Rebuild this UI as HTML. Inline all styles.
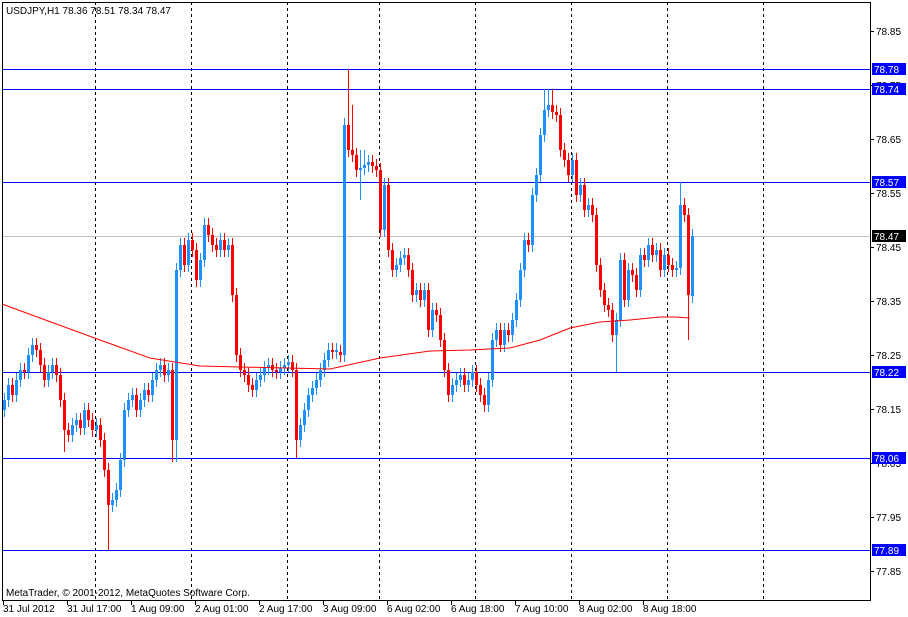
<!DOCTYPE html>
<html><head><meta charset="utf-8"><style>
html,body{margin:0;padding:0;background:#fff;width:908px;height:617px;overflow:hidden}
svg{display:block;font-family:"Liberation Sans",sans-serif;font-size:10px}
</style></head><body>
<svg width="908" height="617" xmlns="http://www.w3.org/2000/svg">
<rect x="0" y="0" width="908" height="617" fill="#fff"/>
<g stroke="#000" stroke-dasharray="3,3">
<line x1="95.5" y1="2" x2="95.5" y2="600"/><line x1="191.5" y1="2" x2="191.5" y2="600"/><line x1="287.5" y1="2" x2="287.5" y2="600"/><line x1="379.5" y1="2" x2="379.5" y2="600"/><line x1="475.5" y1="2" x2="475.5" y2="600"/><line x1="571.5" y1="2" x2="571.5" y2="600"/><line x1="667.5" y1="2" x2="667.5" y2="600"/><line x1="763.5" y1="2" x2="763.5" y2="600"/>
</g>
<line x1="2" y1="236.5" x2="870" y2="236.5" stroke="#c0c0c0"/>
<g stroke="#0000ff">
<line x1="2" y1="69.5" x2="870" y2="69.5"/><line x1="2" y1="89.5" x2="870" y2="89.5"/><line x1="2" y1="182.5" x2="870" y2="182.5"/><line x1="2" y1="372.5" x2="870" y2="372.5"/><line x1="2" y1="458.5" x2="870" y2="458.5"/><line x1="2" y1="550.5" x2="870" y2="550.5"/>
</g>
<!-- blue wicks -->
<path fill="none" stroke="#1e90ff" stroke-width="1" d="M4.5 393V417M8.5 378V407M16.5 373V402M20.5 363V387M28.5 348V379M32.5 338V362M48.5 365V387M52.5 358V379M72.5 418V442M76.5 413V432M84.5 403V435M96.5 418V437M112.5 493V512M116.5 483V507M120.5 453V497M124.5 403V467M128.5 393V417M132.5 388V407M140.5 393V417M144.5 383V407M152.5 373V402M156.5 363V387M160.5 358V377M168.5 363V382M176.5 263V462M180.5 238V277M188.5 233V272M200.5 253V287M204.5 218V267M220.5 233V257M228.5 238V257M256.5 373V397M260.5 368V387M264.5 361V382M268.5 358V375M280.5 361V379M284.5 358V375M288.5 355V372M300.5 418V447M304.5 403V432M308.5 388V417M312.5 381V402M316.5 373V395M320.5 363V387M324.5 353V377M328.5 343V367M336.5 343V359M344.5 118V362M360.5 150V200M364.5 150V175M368.5 155V172M384.5 178V237M396.5 258V277M400.5 251V272M404.5 248V265M416.5 283V302M424.5 283V307M432.5 303V337M452.5 378V402M456.5 373V392M460.5 368V387M468.5 373V392M472.5 365V387M488.5 373V412M492.5 333V387M496.5 323V347M504.5 323V352M512.5 313V342M516.5 293V327M520.5 263V307M524.5 233V277M532.5 188V252M536.5 168V202M540.5 128V182M544.5 89V142M548.5 89V117M572.5 153V182M580.5 178V202M588.5 198V217M616.5 313V372M620.5 253V327M628.5 263V307M640.5 248V297M648.5 238V267M656.5 243V262M664.5 248V277M676.5 261V277M680.5 182V275M692.5 229V303"/>
<path fill="none" stroke="#1e90ff" stroke-width="3" d="M4.5 400V410M8.5 385V400M16.5 380V395M20.5 370V380M28.5 355V372M32.5 345V355M48.5 372V380M52.5 365V372M72.5 425V435M76.5 420V425M84.5 410V428M96.5 425V430M112.5 500V505M116.5 490V500M120.5 460V490M124.5 410V460M128.5 400V410M132.5 395V400M140.5 400V410M144.5 390V400M152.5 380V395M156.5 370V380M160.5 365V370M168.5 370V375M176.5 270V440M180.5 245V270M188.5 240V265M200.5 260V280M204.5 225V260M220.5 240V250M228.5 245V250M256.5 380V390M260.5 375V380M264.5 368V375M268.5 365V368M280.5 368V372M284.5 365V368M288.5 362V365M300.5 425V440M304.5 410V425M308.5 395V410M312.5 388V395M316.5 380V388M320.5 370V380M324.5 360V370M328.5 350V360M336.5 350V352M344.5 125V355M360.5 168V170M364.5 165V168M368.5 162V165M384.5 185V230M396.5 265V270M400.5 258V265M404.5 255V258M416.5 290V295M424.5 290V300M432.5 310V330M452.5 385V395M456.5 380V385M460.5 375V380M468.5 380V385M472.5 372V380M488.5 380V405M492.5 340V380M496.5 330V340M504.5 330V345M512.5 320V335M516.5 300V320M520.5 270V300M524.5 240V270M532.5 195V245M536.5 175V195M540.5 135V175M544.5 110V135M548.5 105V110M572.5 160V175M580.5 185V195M588.5 205V210M616.5 320V335M620.5 260V320M628.5 270V300M640.5 255V290M648.5 245V260M656.5 250V255M664.5 255V270M676.5 268V270M680.5 205V268M692.5 236V296"/>
<!-- red -->
<path fill="none" stroke="#ff0000" stroke-width="1" d="M12.5 378V402M24.5 363V379M36.5 338V357M40.5 343V372M44.5 358V387M56.5 358V382M60.5 368V407M64.5 393V452M68.5 423V442M80.5 413V435M88.5 403V427M92.5 413V437M100.5 418V447M104.5 433V477M108.5 463V550M136.5 388V417M148.5 383V402M164.5 358V382M172.5 363V462M184.5 238V272M192.5 233V257M196.5 243V287M208.5 218V242M212.5 228V252M216.5 238V257M224.5 233V257M232.5 238V302M236.5 288V362M240.5 348V377M244.5 363V382M248.5 368V392M252.5 378V397M272.5 358V377M276.5 363V379M292.5 355V377M296.5 363V458M332.5 343V359M340.5 345V362M348.5 69V157M352.5 105V162M356.5 148V177M372.5 155V173M376.5 159V177M380.5 163V237M388.5 178V257M392.5 243V277M408.5 248V277M412.5 263V302M420.5 283V307M428.5 283V337M436.5 303V322M440.5 308V347M444.5 333V377M448.5 363V402M464.5 368V392M476.5 365V392M480.5 378V402M484.5 388V412M500.5 323V352M508.5 323V342M528.5 233V252M552.5 89V119M556.5 105V122M560.5 108V157M564.5 143V167M568.5 153V182M576.5 153V202M584.5 178V217M592.5 198V222M596.5 208V272M600.5 258V297M604.5 283V312M608.5 298V317M612.5 303V342M624.5 253V307M632.5 263V282M636.5 268V297M644.5 248V267M652.5 238V262M660.5 243V277M668.5 248V272M672.5 258V277M684.5 198V222M688.5 208V340"/>
<path fill="none" stroke="#ff0000" stroke-width="3" d="M12.5 385V395M24.5 370V372M36.5 345V350M40.5 350V365M44.5 365V380M56.5 365V375M60.5 375V400M64.5 400V430M68.5 430V435M80.5 420V428M88.5 410V420M92.5 420V430M100.5 425V440M104.5 440V470M108.5 470V505M136.5 395V410M148.5 390V395M164.5 365V375M172.5 370V440M184.5 245V265M192.5 240V250M196.5 250V280M208.5 225V235M212.5 235V245M216.5 245V250M224.5 240V250M232.5 245V295M236.5 295V355M240.5 355V370M244.5 370V375M248.5 375V385M252.5 385V390M272.5 365V370M276.5 370V372M292.5 362V370M296.5 370V440M332.5 350V352M340.5 352V355M348.5 125V150M352.5 150V155M356.5 155V170M372.5 162V166M376.5 166V170M380.5 170V230M388.5 185V250M392.5 250V270M408.5 255V270M412.5 270V295M420.5 290V300M428.5 290V330M436.5 310V315M440.5 315V340M444.5 340V370M448.5 370V395M464.5 375V385M476.5 372V385M480.5 385V395M484.5 395V405M500.5 330V345M508.5 330V335M528.5 240V245M552.5 105V112M556.5 112V115M560.5 115V150M564.5 150V160M568.5 160V175M576.5 160V195M584.5 185V210M592.5 205V215M596.5 215V265M600.5 265V290M604.5 290V305M608.5 305V310M612.5 310V335M624.5 260V300M632.5 270V275M636.5 275V290M644.5 255V260M652.5 245V255M660.5 250V270M668.5 255V265M672.5 265V270M684.5 205V215M688.5 215V295"/>
<polyline fill="none" stroke="#ff0000" stroke-width="1" points="2,304 40,318 100,340 150,358 200,366 240,367 330,369 380,358 430,351 470,350 510,348 540,340 570,328 600,322 630,320 660,317 675,317 690,318"/>
<g stroke="#000">
<line x1="2.5" y1="2" x2="2.5" y2="600"/><line x1="2" y1="2.5" x2="870" y2="2.5"/><line x1="870.5" y1="2" x2="870.5" y2="601"/><line x1="2" y1="600.5" x2="871" y2="600.5"/>
<line x1="870" y1="31.5" x2="874" y2="31.5"/><line x1="870" y1="85.5" x2="874" y2="85.5"/><line x1="870" y1="139.5" x2="874" y2="139.5"/><line x1="870" y1="193.5" x2="874" y2="193.5"/><line x1="870" y1="247.5" x2="874" y2="247.5"/><line x1="870" y1="301.5" x2="874" y2="301.5"/><line x1="870" y1="355.5" x2="874" y2="355.5"/><line x1="870" y1="409.5" x2="874" y2="409.5"/><line x1="870" y1="463.5" x2="874" y2="463.5"/><line x1="870" y1="517.5" x2="874" y2="517.5"/><line x1="870" y1="571.5" x2="874" y2="571.5"/>
<line x1="3.5" y1="600" x2="3.5" y2="605"/><line x1="67.5" y1="600" x2="67.5" y2="605"/><line x1="131.5" y1="600" x2="131.5" y2="605"/><line x1="195.5" y1="600" x2="195.5" y2="605"/><line x1="259.5" y1="600" x2="259.5" y2="605"/><line x1="323.5" y1="600" x2="323.5" y2="605"/><line x1="387.5" y1="600" x2="387.5" y2="605"/><line x1="451.5" y1="600" x2="451.5" y2="605"/><line x1="515.5" y1="600" x2="515.5" y2="605"/><line x1="579.5" y1="600" x2="579.5" y2="605"/><line x1="643.5" y1="600" x2="643.5" y2="605"/>
</g>
<g fill="#000">
<text x="876" y="35">78.85</text><text x="876" y="89">78.75</text><text x="876" y="143">78.65</text><text x="876" y="197">78.55</text><text x="876" y="251">78.45</text><text x="876" y="305">78.35</text><text x="876" y="359">78.25</text><text x="876" y="413">78.15</text><text x="876" y="467">78.05</text><text x="876" y="521">77.95</text><text x="876" y="575">77.85</text>
<text x="3" y="612">31 Jul 2012</text><text x="67" y="612">31 Jul 17:00</text><text x="131" y="612">1 Aug 09:00</text><text x="195" y="612">2 Aug 01:00</text><text x="259" y="612">2 Aug 17:00</text><text x="323" y="612">3 Aug 09:00</text><text x="387" y="612">6 Aug 02:00</text><text x="451" y="612">6 Aug 18:00</text><text x="515" y="612">7 Aug 10:00</text><text x="579" y="612">8 Aug 02:00</text><text x="643" y="612">8 Aug 18:00</text>
<text x="6" y="14">USDJPY,H1  78.36 78.51 78.34 78.47</text>
<text x="6" y="596">MetaTrader, © 2001-2012, MetaQuotes Software Corp.</text>
</g>
<g fill="#0000ff"><rect x="872" y="63" width="34" height="12"/><rect x="872" y="83" width="34" height="12"/><rect x="872" y="176" width="34" height="12"/><rect x="872" y="366" width="34" height="12"/><rect x="872" y="452" width="34" height="12"/><rect x="872" y="544" width="34" height="12"/></g>
<rect x="872" y="230" width="34" height="12" fill="#000"/>
<g fill="#fff">
<text x="874" y="73">78.78</text><text x="874" y="93">78.74</text><text x="874" y="186">78.57</text><text x="874" y="376">78.22</text><text x="874" y="462">78.06</text><text x="874" y="554">77.89</text><text x="874" y="240">78.47</text>
</g>
</svg>
</body></html>
